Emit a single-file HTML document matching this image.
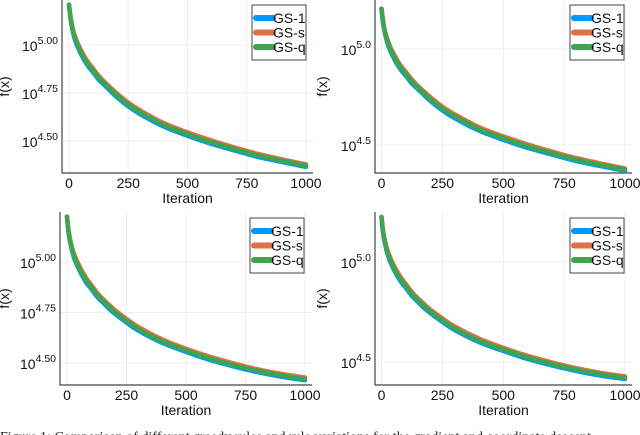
<!DOCTYPE html>
<html><head><meta charset="utf-8"><style>
body{margin:0;background:#fff;width:640px;height:435px;overflow:hidden}
svg{display:block;font-family:"Liberation Sans",sans-serif}
</style></head><body>
<svg id="c" width="640" height="435" viewBox="0 0 640 435">
<text x="0" y="441" font-family="Liberation Serif,serif" font-size="14" fill="#222">Figure 1: Comparison of different greedy rules and rule variations for the gradient and coordinate descent</text>
</svg>
<script>
const iterations=[0,5,10,20,30,40,60,80,100,125,150,175,200,250,300,400,500,600,700,800,900,1000];
const xTicks=[0,250,500,750,1000];
const seriesNames=["GS-1","GS-s","GS-q"];
const topBlue=  [5.21,5.15,5.11,5.05,5.01,4.98,4.93,4.89,4.86,4.82,4.79,4.76,4.73,4.68,4.64,4.575,4.527,4.485,4.45,4.416,4.39,4.365];
const topOrange=[5.21,5.16,5.12,5.065,5.03,5.0,4.952,4.912,4.88,4.84,4.808,4.778,4.75,4.70,4.66,4.593,4.545,4.503,4.466,4.432,4.404,4.378];
const topGreen= [5.21,5.155,5.115,5.057,5.02,4.99,4.94,4.90,4.87,4.83,4.80,4.77,4.74,4.69,4.65,4.584,4.536,4.494,4.458,4.424,4.397,4.372];
const botBlue=  [5.225,5.16,5.12,5.06,5.02,4.99,4.94,4.90,4.87,4.83,4.80,4.77,4.745,4.70,4.66,4.60,4.555,4.515,4.483,4.455,4.432,4.415];
const botOrange=[5.225,5.17,5.13,5.075,5.04,5.01,4.962,4.922,4.89,4.85,4.818,4.79,4.763,4.718,4.678,4.617,4.571,4.531,4.498,4.469,4.446,4.428];
const botGreen= [5.225,5.165,5.125,5.067,5.03,5.0,4.95,4.91,4.88,4.84,4.81,4.78,4.754,4.709,4.669,4.608,4.563,4.523,4.49,4.462,4.439,4.421];
const yTicksA=[5.00,4.75,4.50];const yTickLabelsA=["5.00","4.75","4.50"];
const yTicksB=[5.0,4.5];const yTickLabelsB=["5.0","4.5"];
const colors=["#009AFA","#E26F46","#3EA44E"];
const NS="http://www.w3.org/2000/svg";
const svg=document.getElementById('c');
function mk(t,a,p){const e=document.createElementNS(NS,t);for(const k in a)e.setAttribute(k,a[k]);(p||svg).appendChild(e);return e;}
function smooth(pts){
 let d='M'+pts[0][0].toFixed(1)+','+pts[0][1].toFixed(1);
 for(let i=0;i<pts.length-1;i++){
  const p0=pts[Math.max(0,i-1)],p1=pts[i],p2=pts[i+1],p3=pts[Math.min(pts.length-1,i+2)];
  const c1=[p1[0]+(p2[0]-p0[0])/6,p1[1]+(p2[1]-p0[1])/6];
  const c2=[p2[0]-(p3[0]-p1[0])/6,p2[1]-(p3[1]-p1[1])/6];
  d+=` C${c1[0].toFixed(1)},${c1[1].toFixed(1)} ${c2[0].toFixed(1)},${c2[1].toFixed(1)} ${p2[0].toFixed(1)},${p2[1].toFixed(1)}`;
 }
 return d;
}
const panels=[
 {name:'top-left',fl:62,fr:313,ft:0,fb:173,x0:69,x1:306,v0:5.0,p0:45,v1:4.5,p1:141,ticks:yTicksA,labels:yTickLabelsA,series:[topBlue,topOrange,topGreen],leg:[252,5],yt:9},
 {name:'top-right',fl:375,fr:632,ft:0,fb:173,x0:381.5,x1:625,v0:5.0,p0:49,v1:4.5,p1:145,ticks:yTicksB,labels:yTickLabelsB,series:[topBlue,topOrange,topGreen],leg:[570,5],yt:327},
 {name:'bottom-left',fl:60,fr:312,ft:212,fb:385,x0:67,x1:305,v0:5.0,p0:262,v1:4.5,p1:363,ticks:yTicksA,labels:yTickLabelsA,series:[botBlue,botOrange,botGreen],leg:[250,218],yt:9},
 {name:'bottom-right',fl:375,fr:632,ft:212,fb:385,x0:381.5,x1:625,v0:5.0,p0:262,v1:4.5,p1:362,ticks:yTicksB,labels:yTickLabelsB,series:[botBlue,botOrange,botGreen],leg:[570,218],yt:327}
];
panels.forEach(P=>{
 const g=mk('g',{});
 
 
 const xs=v=>P.x0+(P.x1-P.x0)*v/1000;
 const ys=v=>P.p0+(P.p1-P.p0)*(v-P.v0)/(P.v1-P.v0);
 xTicks.forEach(t=>{
  const l=mk('line',{x1:xs(t),x2:xs(t),y1:P.ft,y2:P.fb,stroke:'#ebebeb','stroke-width':0.8},g);
  
  const tx=mk('text',{x:xs(t),y:P.fb+15,'text-anchor':'middle','font-size':14,fill:'#111'},g);
  tx.textContent=t;
  
 });
 P.ticks.forEach((t,i)=>{
  const y=ys(t);
  const l=mk('line',{x1:P.fl,x2:P.fr,y1:y,y2:y,stroke:'#ebebeb','stroke-width':0.8},g);
  
  const tx=mk('text',{x:P.fl-4,y:y+6,'text-anchor':'end','font-size':14,fill:'#111'},g);
  
  const b=mk('tspan',{},tx);b.textContent='10';
  const s=mk('tspan',{dy:-7,'font-size':10.5},tx);s.textContent=P.labels[i];
 });
 const ax=mk('path',{d:`M${P.fl},${P.ft} V${P.fb} H${P.fr}`,fill:'none',stroke:'#444','stroke-width':1.2},g);
 
 const xl=mk('text',{x:(P.fl+P.fr)/2,y:P.fb+30,'text-anchor':'middle','font-size':14,fill:'#111'},g);
 xl.textContent='Iteration';
 
 const cy=(P.ft+P.fb)/2, cx=P.yt;
 const yl=mk('text',{x:cx,y:cy,'text-anchor':'middle','font-size':14,fill:'#111',transform:`rotate(-90 ${cx} ${cy})`},g);
 yl.textContent='f(x)';
 
 P.series.forEach((arr,k)=>{
  const pts=arr.map((v,i)=>[xs(iterations[i]),ys(v)]);
  const p=mk('path',{d:smooth(pts),fill:'none',stroke:colors[k],'stroke-width':4.5,'stroke-linejoin':'round','stroke-linecap':'round'},g);
  
  
 });
 const [lx,ly]=P.leg;
 const lg=mk('g',{},g);
 
 
 mk('rect',{x:lx,y:ly,width:54,height:55,fill:'#fff',stroke:'#444','stroke-width':1},lg);
 seriesNames.forEach((n,k)=>{
  const yy=ly+13+k*14.5;
  const e=mk('g',{},lg);
  
  
  mk('line',{x1:lx+4,x2:lx+21,y1:yy,y2:yy,stroke:colors[k],'stroke-width':6,'stroke-linecap':'round'},e);
  const t=mk('text',{x:lx+21,y:yy+5,'font-size':14,fill:'#111'},e);t.textContent=n;
 });
});
</script>
</body></html>
